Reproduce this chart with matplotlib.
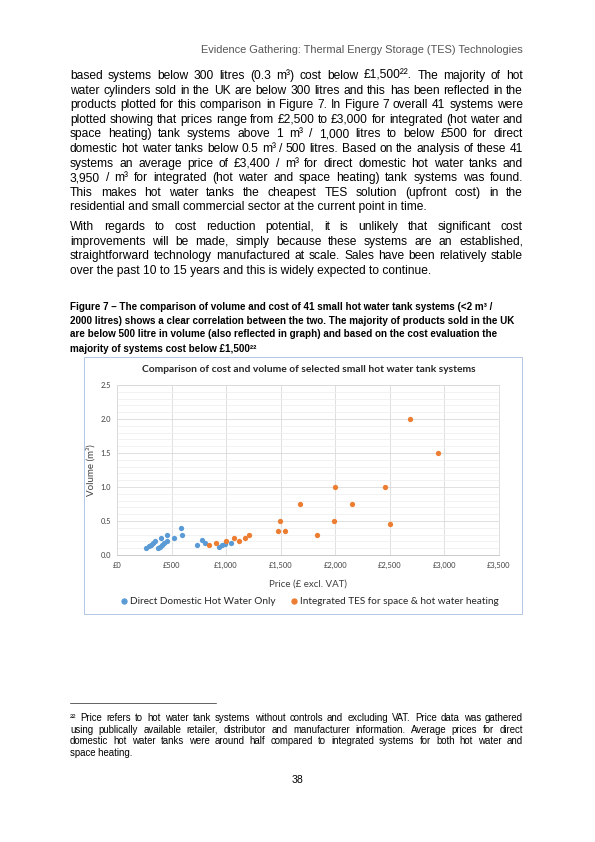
import matplotlib
matplotlib.use("Agg")
import matplotlib.pyplot as plt
from matplotlib.lines import Line2D
from matplotlib.patches import Rectangle
from matplotlib.ticker import MultipleLocator

# scatter data: price (GBP excl. VAT) vs volume (m3)
direct_price = [270, 290, 310, 330, 350, 375, 395, 415, 435, 455,
                400, 460, 525, 585, 595,
                735, 775, 810, 935, 960, 985, 1045]
direct_vol = [0.10, 0.13, 0.15, 0.18, 0.21, 0.10, 0.12, 0.15, 0.18, 0.21,
              0.25, 0.30, 0.25, 0.40, 0.30,
              0.15, 0.22, 0.18, 0.12, 0.14, 0.16, 0.18]
integ_price = [840, 910, 995, 1075, 1120, 1170, 1205, 1475, 1490, 1540,
               1680, 1835, 1985, 1995, 2155, 2460, 2505, 2680, 2945]
integ_vol = [0.15, 0.17, 0.21, 0.25, 0.21, 0.25, 0.30, 0.35, 0.50, 0.35,
             0.75, 0.30, 0.50, 1.00, 0.75, 1.00, 0.45, 2.00, 1.50]
x_ticks = [0, 500, 1000, 1500, 2000, 2500, 3000, 3500]
x_ticklabels = ["£0", "£500", "£1,000", "£1,500", "£2,000", "£2,500", "£3,000", "£3,500"]
y_ticks = [0.0, 0.5, 1.0, 1.5, 2.0, 2.5]

header = "Evidence Gathering: Thermal Energy Storage (TES) Technologies"
para1 = [
    "based systems below 300 litres (0.3 m³) cost below £1,500²². The majority of hot",
    "water cylinders sold in the UK are below 300 litres and this has been reflected in the",
    "products plotted for this comparison in Figure 7. In Figure 7 overall 41 systems were",
    "plotted showing that prices range from £2,500 to £3,000 for integrated (hot water and",
    "space heating) tank systems above 1 m³ / 1,000 litres to below £500 for direct",
    "domestic hot water tanks below 0.5 m³ / 500 litres. Based on the analysis of these 41",
    "systems an average price of £3,400 / m³ for direct domestic hot water tanks and",
    "3,950 / m³ for integrated (hot water and space heating) tank systems was found.",
    "This makes hot water tanks the cheapest TES solution (upfront cost) in the",
    "residential and small commercial sector at the current point in time.",
]
para2 = [
    "With regards to cost reduction potential, it is unlikely that significant cost",
    "improvements will be made, simply because these systems are an established,",
    "straightforward technology manufactured at scale. Sales have been relatively stable",
    "over the past 10 to 15 years and this is widely expected to continue.",
]
caption = [
    "Figure 7 – The comparison of volume and cost of 41 small hot water tank systems (<2 m³ /",
    "2000 litres) shows a clear correlation between the two. The majority of products sold in the UK",
    "are below 500 litre in volume (also reflected in graph) and based on the cost evaluation the",
    "majority of systems cost below £1,500²²",
]
footnote = [
    "²² Price refers to hot water tank systems without controls and excluding VAT. Price data was gathered",
    "using publically available retailer, distributor and manufacturer information. Average prices for direct",
    "domestic hot water tanks were around half compared to integrated systems for both hot water and",
    "space heating.",
]

W, H = 595, 842
fig = plt.figure(figsize=(W / 72, H / 72), dpi=72)
renderer = fig.canvas.get_renderer()
body_font = "Liberation Sans"
chart_font = "Lato"
chart_grey = "#404040"


def fx(x):
    return x / W


def fy(y):
    return 1 - y / H


def put(x, y, s, **kw):
    kw.setdefault("family", body_font)
    return fig.text(fx(x), fy(y), s, **kw)


def justify(lines, x0, x1, y0, step, size, **kw):
    # word by word placement so every line but the last fills the column
    for i, line in enumerate(lines):
        y = y0 + i * step
        words = line.split(" ")
        if i == len(lines) - 1:
            put(x0, y, line, size=size, va="baseline", **kw)
            continue
        objs = [put(0, y, w, size=size, va="baseline", **kw) for w in words]
        widths = [o.get_window_extent(renderer).width for o in objs]
        gap = (x1 - x0 - sum(widths)) / (len(words) - 1)
        x = x0
        for o, wd in zip(objs, widths):
            o.set_x(fx(x))
            x += wd + gap


put(523, 53, header, size=11, color="#555555", ha="right", va="baseline")
justify(para1, 70, 523, 79, 14.6, 12)
justify(para2, 70, 523, 230, 14.6, 12)
for i, line in enumerate(caption):
    put(70, 309.5 + i * 14, line, size=9.9, weight="bold", va="baseline")

# chart frame
fig.patches.append(Rectangle((fx(84), fy(614)), (522 - 84) / W, (614 - 357) / H,
                             transform=fig.transFigure, fill=False,
                             edgecolor="#B4C7E7", lw=1))

ax = fig.add_axes([fx(117), fy(555), (499 - 117) / W, (555 - 385) / H])
ax.scatter(direct_price, direct_vol, s=28, color="#5B9BD5", zorder=3, linewidths=0)
ax.scatter(integ_price, integ_vol, s=28, color="#ED7D31", zorder=3, linewidths=0)
ax.set_xlim(0, 3500)
ax.set_ylim(0, 2.5)
ax.set_xticks(x_ticks)
ax.set_xticklabels(x_ticklabels)
ax.set_yticks(y_ticks)
ax.set_yticklabels([f"{v:.1f}" for v in y_ticks])
ax.yaxis.set_minor_locator(MultipleLocator(0.1))
ax.grid(True, which="major", color="#D9D9D9", lw=0.8)
ax.grid(True, which="minor", axis="y", color="#EFEFEF", lw=0.8)
ax.set_axisbelow(True)
for side in ["top", "right", "left"]:
    ax.spines[side].set_color("#D9D9D9")
    ax.spines[side].set_linewidth(0.8)
ax.spines["bottom"].set_color("#BFBFBF")
ax.tick_params(which="both", length=0, labelsize=7.5, colors=chart_grey)
ax.tick_params(axis="x", pad=7)
ax.tick_params(axis="y", pad=6)
for lab in ax.get_xticklabels() + ax.get_yticklabels():
    lab.set_family(chart_font)

put(308, 584, "Price (£ excl. VAT)", family=chart_font, size=9.8, color=chart_grey,
    ha="center", va="center")
put(91, 470, "Volume (m³)", family=chart_font, size=9.8, color=chart_grey,
    ha="center", va="center", rotation=90)
put(309, 370, "Comparison of cost and volume of selected small hot water tank systems",
    family=chart_font, size=10.3, weight="bold", color="#262626", ha="center", va="center")

handles = [Line2D([], [], ls="", marker="o", ms=5.3, color="#5B9BD5"),
           Line2D([], [], ls="", marker="o", ms=5.3, color="#ED7D31")]
fig.legend(handles, ["Direct Domestic Hot Water Only",
                     "Integrated TES for space & hot water heating"],
           loc="center", bbox_to_anchor=(fx(309), fy(602)), ncol=2, frameon=False,
           prop={"family": chart_font, "size": 10}, handletextpad=0.1,
           columnspacing=1.4, handlelength=1.0, labelcolor="#262626",
           borderpad=0, borderaxespad=0)

# footnote
fig.add_artist(Line2D([fx(70), fx(216)], [fy(703), fy(703)], color="black", lw=0.6))
justify(footnote, 70, 523, 721, 11.7, 9.6)
put(297, 783, "38", size=10.5, ha="center", va="baseline")

fig.savefig("out.png", dpi=72)
